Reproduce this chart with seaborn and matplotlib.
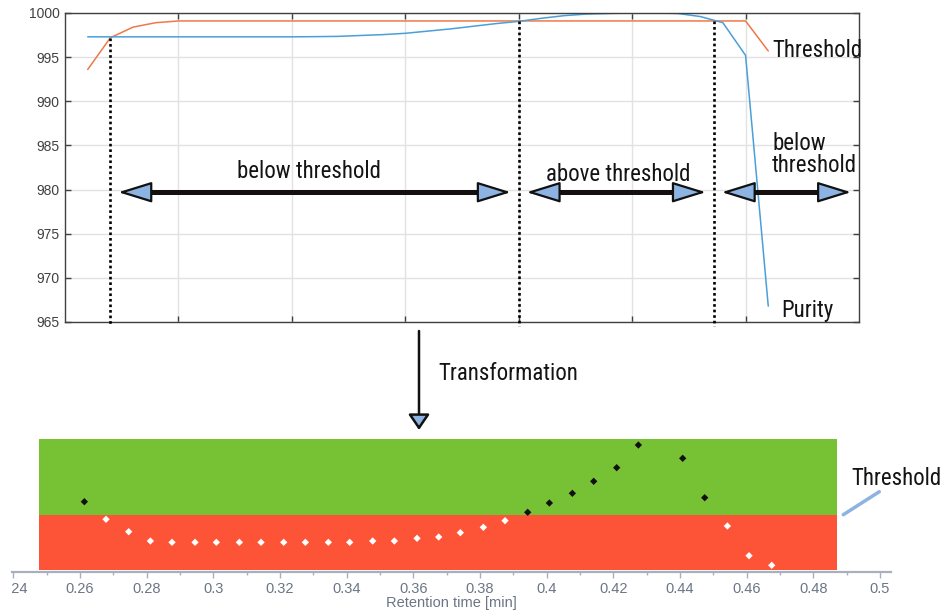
import numpy as np
import pandas as pd
import matplotlib
matplotlib.use("Agg")
import matplotlib.pyplot as plt
from matplotlib import font_manager
from matplotlib.patches import FancyArrowPatch, ArrowStyle
from matplotlib.lines import Line2D
from matplotlib.ticker import MultipleLocator, FuncFormatter
from matplotlib.transforms import Bbox, TransformedBbox
import seaborn as sns

# top panel: purity vs. threshold for each scan
scan = list(range(1, 32))
purity = [997.3, 997.3, 997.3, 997.3, 997.3, 997.3, 997.3, 997.3, 997.3, 997.3,
          997.32, 997.35, 997.45, 997.55, 997.7, 997.95, 998.2, 998.5, 998.8, 999.05,
          999.4, 999.7, 999.88, 999.95, 1000.0, 1000.0, 999.95, 999.6, 998.9, 995.2,
          966.8]
threshold = [993.6, 997.2, 998.4, 998.9, 999.1, 999.1, 999.1, 999.1, 999.1, 999.1,
             999.1, 999.1, 999.1, 999.1, 999.1, 999.1, 999.1, 999.1, 999.1, 999.1,
             999.1, 999.1, 999.1, 999.1, 999.1, 999.1, 999.1, 999.1, 999.1, 999.1,
             995.7]
crossings = [2.0, 20.0, 28.6]
region_labels = ["below threshold", "above threshold", "below\nthreshold"]

# bottom panel: transformed purity (relative to threshold) vs retention time
rt = [0.2613, 0.2678, 0.2746, 0.2811, 0.2876, 0.2945, 0.3009, 0.3078, 0.3143, 0.3211,
      0.3276, 0.3345, 0.3409, 0.3478, 0.3543, 0.3611, 0.3676, 0.3741, 0.3810, 0.3875,
      0.3943, 0.4008, 0.4077, 0.4141, 0.4210, 0.4275, 0.4408, 0.4474, 0.4542, 0.4607,
      0.4675]
delta = [1.30, -0.46, -1.70, -2.63, -2.76, -2.76, -2.76, -2.76, -2.76, -2.76,
         -2.76, -2.76, -2.76, -2.63, -2.63, -2.36, -2.23, -1.80, -1.26, -0.60,
         0.24, 1.17, 2.14, 3.34, 4.70, 6.97, 5.64, 1.70, -1.13, -4.10,
         -5.06]

W, H = 953, 612
def fx(px):
    return px / W
def fy(py):
    return 1 - py / H

sns.set_theme(style="ticks")
plt.rcParams["font.family"] = ["Liberation Sans", "DejaVu Sans"]
names = {f.name for f in font_manager.fontManager.ttflist}
note_font = next((n for n in ["Liberation Sans Narrow", "Roboto Condensed", "Open Sans Condensed"]
                  if n in names), "Roboto")
note_size = 16.5 if note_font != "Roboto" else 14.5
note = dict(family=note_font, fontsize=note_size, color="#141414")
blue_head = "#8db3e2"

fig = plt.figure(figsize=(W / 100, H / 100), dpi=100)

# ---- top panel
ax1 = fig.add_axes([fx(65), fy(322), (859 - 65) / W, (322 - 13) / H])
top_df = pd.DataFrame({"scan": scan, "Purity": purity, "Threshold": threshold})
sns.lineplot(data=top_df, x="scan", y="Threshold", color="#f07848", lw=1.1, ax=ax1)
sns.lineplot(data=top_df, x="scan", y="Purity", color="#4a9fd8", lw=1.1, ax=ax1)
ax1.set_xlim(0, 35)
ax1.set_ylim(965, 1000)
ax1.set_xticks([5, 10, 15, 20, 25, 30])
ax1.set_xticklabels([])
ax1.set_yticks(np.arange(965, 1001, 5))
ax1.set_xlabel("")
ax1.set_ylabel("")
ax1.grid(True, color="#e2e2e2", lw=1)
ax1.tick_params(direction="in", top=True, right=True, length=4, width=1,
                color="#404040", labelsize=10, labelcolor="#404040", pad=4)
for s in ax1.spines.values():
    s.set_color("#404040")
    s.set_linewidth(1)

arrow_y = 979.7
for b in crossings:
    ytop = np.interp(b, scan, threshold)
    ax1.plot([b, b], [ytop, 964.6], color="black", lw=1.9, ls=(0, (1, 1.1)),
             clip_on=False, zorder=4)

edges = crossings + [35.0]
for a, b in zip(edges[:-1], edges[1:]):
    x0, x1 = a + 0.35, b - 0.35
    ax1.plot([x0 + 0.7, x1 - 0.7], [arrow_y, arrow_y], color="#1a0d0d", lw=3.6,
             solid_capstyle="butt", zorder=5, clip_on=False)
    ax1.add_patch(FancyArrowPatch((x0, arrow_y), (x1, arrow_y),
                                  arrowstyle=ArrowStyle("<|-|>", head_length=21, head_width=6.5),
                                  mutation_scale=1, shrinkA=0, shrinkB=0, lw=1.6,
                                  fc=blue_head, ec="#111111", zorder=6, clip_on=False))

ax1.text(10.75, 981.3, region_labels[0], ha="center", va="baseline", **note)
ax1.text(24.38, 980.97, region_labels[1], ha="center", va="baseline", **note)
ax1.text(31.17, 982.0, region_labels[2], ha="left", va="baseline", linespacing=0.95, **note)
ax1.text(31.19, 995.0, "Threshold", ha="left", va="baseline", **note)
ax1.text(31.57, 965.57, "Purity", ha="left", va="baseline", **note)

# ---- transformation arrow
fig.add_artist(FancyArrowPatch((fx(419), fy(331)), (fx(419), fy(430)), transform=fig.transFigure,
                               arrowstyle=ArrowStyle("-|>", head_length=9.5, head_width=6.5),
                               mutation_scale=1, shrinkA=0, shrinkB=0, lw=1.8,
                               fc=blue_head, ec="#111111"))
fig.text(fx(438.3), fy(380), "Transformation", ha="left", va="baseline", **note)

# ---- bottom panel
ax2 = fig.add_axes([fx(11.7), fy(572), (890.7 - 11.7) / W, (572 - 439) / H])
band_x = [0.2478, 0.4872]
y_lo, y_hi, band_lo = -5.73, 7.57, -5.53
ax2.fill_between(band_x, 0, y_hi, color="#77c135", lw=0, zorder=1)
ax2.fill_between(band_x, band_lo, 0, color="#fd5437", lw=0, zorder=1)
bot_df = pd.DataFrame({"rt": rt, "delta": delta})
bot_df["above"] = bot_df["delta"] >= 0
sns.scatterplot(data=bot_df, x="rt", y="delta", hue="above",
                palette={True: "#111111", False: "white"}, marker="D", s=14,
                linewidth=0, legend=False, ax=ax2, zorder=3)
ax2.set_xlim(0.2395, 0.5032)
ax2.set_ylim(y_lo, y_hi)
ax2.set_yticks([])
ax2.set_ylabel("")
for side in ["left", "top", "right"]:
    ax2.spines[side].set_visible(False)
ax2.spines["bottom"].set_color("#a8b0bd")
ax2.spines["bottom"].set_linewidth(1.6)
ax2.xaxis.set_major_locator(MultipleLocator(0.02))
ax2.xaxis.set_minor_locator(MultipleLocator(0.01))
ax2.xaxis.set_major_formatter(FuncFormatter(lambda v, p: f"{v:g}"))
ax2.tick_params(axis="x", which="major", length=4, width=1, color="#a8b0bd",
                labelsize=10.5, labelcolor="#6b7585", pad=3)
ax2.tick_params(axis="x", which="minor", length=2, width=1, color="#a8b0bd")
ax2.set_xlabel("Retention time [min]", fontsize=10.5, color="#6b7585", labelpad=0)
ax2.set_facecolor("none")

fig.text(fx(851.7), fy(485), "Threshold", ha="left", va="baseline", **note)
fig.add_artist(Line2D([fx(843.3), fx(879.3)], [fy(514.7), fy(491.7)],
                      transform=fig.transFigure, color=blue_head, lw=2.5))

# the left-most tick label is cut at the left edge in the source image
fig.canvas.draw()
clip = TransformedBbox(Bbox([[fx(11.5), 0], [1, 1]]), fig.transFigure)
for lab in ax2.get_xticklabels():
    lab.set_clip_box(clip)
    lab.set_clip_on(True)

fig.savefig("out.png", dpi=100)
